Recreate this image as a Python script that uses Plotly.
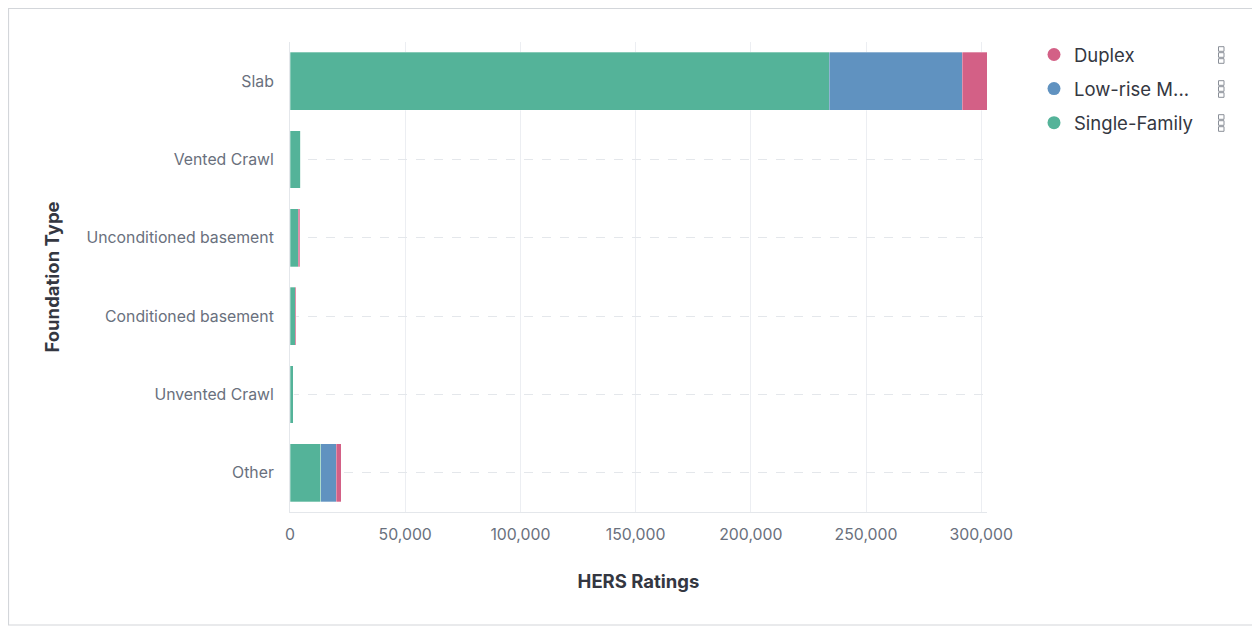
import plotly.graph_objects as go

categories = ["Slab", "Vented Crawl", "Unconditioned basement",
              "Conditioned basement", "Unvented Crawl", "Other"]
single_family = [234000, 4600, 3500, 2200, 1400, 13300]
low_rise = [57700, 0, 0, 0, 0, 6700]
duplex = [10800, 0, 700, 600, 0, 2300]

series = [
    ("Single-Family", single_family, "#54B399"),
    ("Low-rise M...", low_rise, "#6092C0"),
    ("Duplex", duplex, "#D36086"),
]
legend_order = ["Duplex", "Low-rise M...", "Single-Family"]
x_ticks = [0, 50000, 100000, 150000, 200000, 250000, 300000]

fig = go.Figure()
for name, vals, col in series:
    fig.add_trace(go.Bar(
        y=categories, x=vals, orientation="h", name=name,
        marker=dict(color=col, line=dict(color="rgba(255,255,255,0.5)", width=0.6)),
        showlegend=False,
    ))

colmap = {n: c for n, _, c in series}
for name in legend_order:
    fig.add_trace(go.Scatter(
        x=[None], y=[None], mode="markers", name=name,
        marker=dict(color=colmap[name], size=13, symbol="circle"),
        legendgroup=name, showlegend=True,
    ))

# page offset (body margin) of 8px
OX, OY = 8, 8
W, H = 1260 - OX, 628 - OY
L, R, T, B = 290 - OX, 1260 - 987, 42 - OY, 628 - 512
pw, ph = W - L - R, H - T - B

def px(x):
    return (x - OX - L) / pw

def py(y):
    return (H - B - (y - OY)) / ph

shapes = [dict(type="rect", xref="paper", yref="paper",
               x0=px(8.5), x1=px(1253), y0=py(625), y1=py(8.5),
               line=dict(color="#d3d6da", width=1.2), fillcolor="rgba(0,0,0,0)",
               layer="below")]
for yc in [55, 89, 123]:
    for dy in (-6, 0, 6):
        shapes.append(dict(type="rect", xref="paper", yref="paper",
                           x0=px(1218.5), x1=px(1224), y0=py(yc + dy + 2.3), y1=py(yc + dy - 2.3),
                           line=dict(color="#8a8f98", width=1), fillcolor="#ffffff"))

fig.update_layout(
    width=W, height=H,
    margin=dict(l=L, r=R, t=T, b=B),
    paper_bgcolor="white", plot_bgcolor="white",
    barmode="stack", bargap=0.26,
    font=dict(family="Inter", color="#69707d", size=15.8),
    shapes=shapes,
    legend=dict(x=px(1034), y=py(36), xanchor="left", yanchor="top",
                font=dict(size=18.5, color="#343741"), tracegroupgap=7,
                itemwidth=30, bgcolor="rgba(0,0,0,0)"),
    xaxis=dict(
        range=[0, 302500], tickvals=x_ticks, tickformat=",",
        showgrid=True, gridcolor="#eceef2", gridwidth=1,
        showline=True, linecolor="#e4e7eb", zeroline=False,
        ticks="", ticklabelstandoff=8,
        tickfont=dict(size=15.8, color="#69707d"),
        title=dict(text="HERS Ratings", standoff=32,
                   font=dict(size=18.5, color="#343741", family="Inter", weight="bold")),
    ),
    yaxis=dict(
        categoryorder="array", categoryarray=categories, autorange="reversed",
        showgrid=True, gridcolor="#e4e7eb", griddash="dash", gridwidth=1,
        showline=True, linecolor="#e4e7eb", zeroline=False,
        ticks="", ticklabelstandoff=12,
        tickfont=dict(size=15.8, color="#69707d"),
        title=dict(text="Foundation Type", standoff=22,
                   font=dict(size=18.5, color="#343741", family="Inter", weight="bold")),
    ),
)

fig.write_html("out.html")
